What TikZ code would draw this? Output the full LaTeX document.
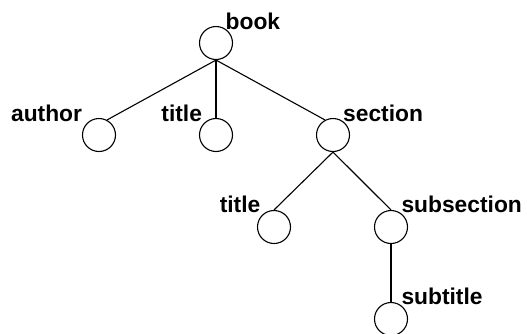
\documentclass[tikz,border=0pt]{standalone}
\usepackage{fontspec}
\setmainfont{Liberation Sans}
\begin{document}
\begin{tikzpicture}[x=1pt,y=-1pt,
  elem/.style={circle,draw,minimum size=33pt,inner sep=0pt,line width=1.1pt},
  lbl/.style={inner sep=0pt,font=\fontsize{22.8}{25}\selectfont\bfseries},
  edge/.style={line width=1.1pt}]
\useasboundingbox (0,0) rectangle (527,333);
\node[elem] (book) at (216,43) {};
\node[elem] (author) at (99,135) {};
\node[elem] (title1) at (216,135) {};
\node[elem] (section) at (333,135) {};
\node[elem] (title2) at (274,227) {};
\node[elem] (sub) at (391,227) {};
\node[elem] (subtitle) at (391,319) {};
\node[lbl,anchor=base west] (lbook) at (225.5,29.3) {book};
\node[lbl,anchor=base east] (lauthor) at (82.2,121.7) {author};
\node[lbl,anchor=base east] (ltitle1) at (202.2,121.7) {title};
\node[lbl,anchor=base west] (lsection) at (343,121.7) {section};
\node[lbl,anchor=base east] (ltitle2) at (260.5,212.7) {title};
\node[lbl,anchor=base west] (lsub) at (401.3,212.7) {subsection};
\node[lbl,anchor=base west] (lsubtitle) at (401.3,304) {subtitle};
\draw[edge] (book.south) -- (author.62);
\draw[edge] (book.south) -- (title1.north);
\draw[edge] (book.south) -- (section.118);
\draw[edge] (section.south) -- (title2.north);
\draw[edge] (section.south) -- (sub.north);
\draw[edge] (sub.south) -- (subtitle.north);
\end{tikzpicture}
\end{document}
